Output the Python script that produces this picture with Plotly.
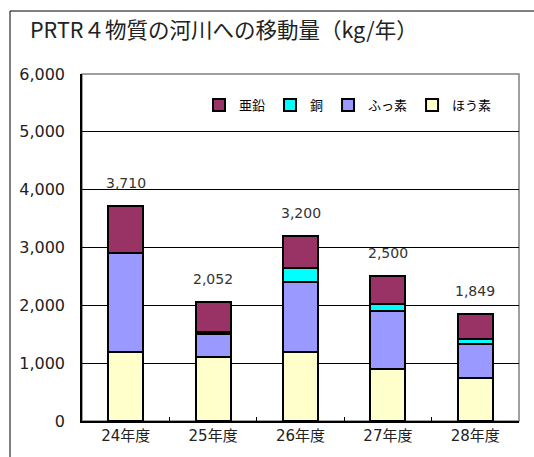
import plotly.graph_objects as go

categories = ["24年度", "25年度", "26年度", "27年度", "28年度"]
boron = [1200, 1100, 1200, 900, 740]      # ほう素
fluorine = [1700, 400, 1200, 1000, 590]   # ふっ素
copper = [0, 40, 240, 130, 90]            # 銅
zinc = [810, 512, 560, 470, 429]          # 亜鉛
totals = [3710, 2052, 3200, 2500, 1849]
total_labels = ["3,710", "2,052", "3,200", "2,500", "1,849"]
yticks = [0, 1000, 2000, 3000, 4000, 5000, 6000]
ytick_labels = ["0", "1,000", "2,000", "3,000", "4,000", "5,000", "6,000"]

FONT = "DejaVu Sans, Noto Sans CJK JP, sans-serif"
CJK = "Noto Sans CJK JP, sans-serif"

series = [
    ("ほう素", boron, "#FFFFCC"),
    ("ふっ素", fluorine, "#9999FF"),
    ("銅", copper, "#00FFFF"),
    ("亜鉛", zinc, "#993366"),
]

fig = go.Figure()
for name, vals, col in series:
    fig.add_trace(go.Bar(
        x=categories, y=vals, name=name,
        marker=dict(color=col, line=dict(color="black", width=2)),
    ))

for c, t, lab in zip(categories, totals, total_labels):
    fig.add_annotation(x=c, y=t, text=lab, showarrow=False, yanchor="middle",
                       yshift=23, font=dict(family=FONT, size=14, color="#333333"))

W, H = 534, 457
L, R, T, B = 82, 15, 74, 36
pw, ph = W - L - R, H - T - B

def px(x):
    return (x - L) / pw

def py(y):
    return (H - B - y) / ph

shapes = [
    # plot area grey frame
    dict(type="rect", xref="paper", yref="paper", x0=0, x1=1, y0=0, y1=1,
         line=dict(color="#808080", width=1.5), layer="below"),
    # outer chart border (left and top)
    dict(type="line", xref="paper", yref="paper", x0=px(10), x1=px(10),
         y0=py(11), y1=py(470), line=dict(color="black", width=1)),
    dict(type="line", xref="paper", yref="paper", x0=px(10), x1=px(560),
         y0=py(11), y1=py(11), line=dict(color="black", width=1)),
]

fig.update_layout(
    width=W, height=H,
    margin=dict(l=L, r=R, t=T, b=B),
    barmode="stack", bargap=0.6,
    paper_bgcolor="white", plot_bgcolor="white",
    font=dict(family=FONT, color="black"),
    title=dict(text="PRTR４物質の河川への移動量（kg/年）", xref="container", x=30 / W,
               xanchor="left", yref="container", y=1 - 30 / H, yanchor="middle",
               font=dict(family=CJK, size=21.5, color="#222222")),
    legend=dict(orientation="h", traceorder="reversed", x=px(497), xanchor="right",
                y=py(105), yanchor="middle", font=dict(family=CJK, size=13),
                itemwidth=30, bgcolor="rgba(0,0,0,0)", tracegroupgap=0),
    showlegend=True,
    shapes=shapes,
    xaxis=dict(showline=True, linecolor="black", linewidth=1.5, ticks="inside",
               tickson="boundaries", ticklen=4, tickcolor="black",
               tickfont=dict(family=FONT, size=15, color="#222222"), fixedrange=True),
    yaxis=dict(range=[0, 6000], tickvals=yticks, ticktext=ytick_labels,
               showline=True, linecolor="black", linewidth=1.5,
               showgrid=True, gridcolor="black", gridwidth=1, zeroline=False,
               ticks="", ticklabelstandoff=12,
               tickfont=dict(family=FONT, size=16, color="#222222"), fixedrange=True),
)

fig.write_html("out.html", config={"displayModeBar": False},
               post_script="document.body.style.margin='0px';")
